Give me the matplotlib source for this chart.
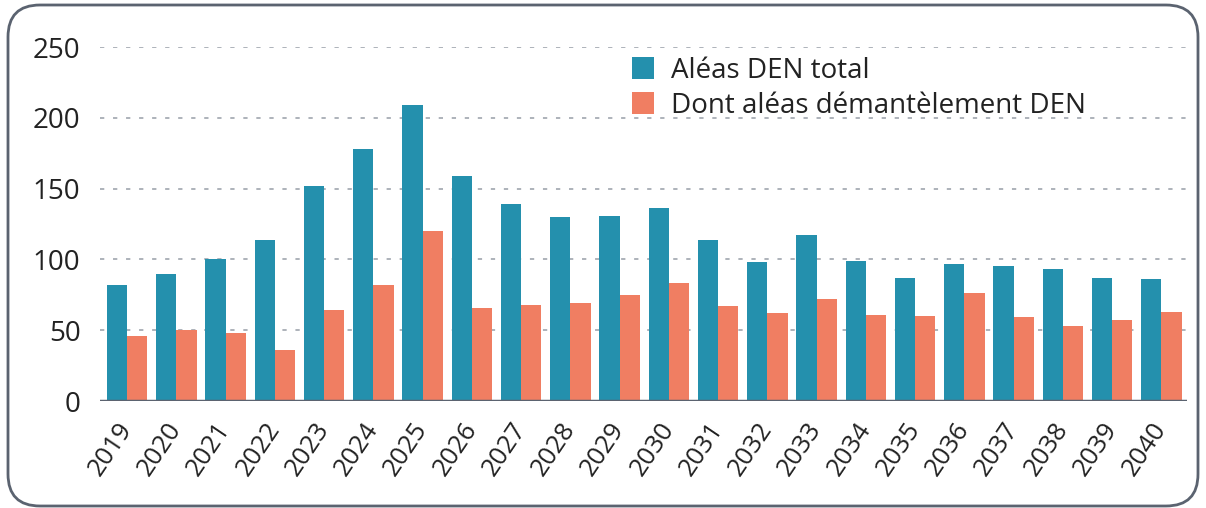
import matplotlib
matplotlib.use("Agg")
import matplotlib.pyplot as plt
import numpy as np
from matplotlib.patches import FancyBboxPatch

plt.rcParams['font.family'] = ['Open Sans', 'DejaVu Sans']

years = [str(y) for y in range(2019, 2041)]
total = [82, 90, 100, 114, 152, 178, 209, 159, 139, 130, 131, 136,
         114, 98, 117, 99, 87, 97, 95, 93, 87, 86]
demantelement = [46, 50, 48, 36, 64, 82, 120, 66, 68, 69, 75, 83,
                 67, 62, 72, 61, 60, 76, 59, 53, 57, 63]

blue = "#2490ad"
orange = "#f07e62"
textcol = "#222222"

fig = plt.figure(figsize=(12.06, 5.08), dpi=100)

# background axes in pixel units, only for the rounded frame
bg = fig.add_axes([0, 0, 1, 1], zorder=-1)
bg.set_xlim(0, 1206)
bg.set_ylim(0, 508)
bg.axis('off')
bg.add_patch(FancyBboxPatch((8, 2), 1190, 501,
                            boxstyle="round,pad=0,rounding_size=32",
                            facecolor="white", edgecolor="#5b6370", linewidth=2))

ax = fig.add_axes([100/1206, 1 - 401/508, 1087/1206, 354/508])
ax.set_facecolor("none")

x = np.arange(len(years))
w = 0.41
ax.bar(x - w/2, total, width=w, color=blue, label="Aléas DEN total", zorder=2)
ax.bar(x + w/2, demantelement, width=w, color=orange,
       label="Dont aléas démantèlement DEN", zorder=2)

ax.set_ylim(0, 250)
ax.set_xlim(-0.55, 21.52)
ax.set_yticks([0, 50, 100, 150, 200, 250])
for v in [50, 100, 150, 200, 250]:
    ax.axhline(v, color="#adb2ba", linewidth=1.4, linestyle=(0, (2.2, 4.5)), zorder=1)
ax.axhline(0, color="#5b6370", linewidth=2.5, zorder=3)

for s in ax.spines.values():
    s.set_visible(False)
ax.tick_params(axis='y', length=0, labelsize=20, labelcolor=textcol, pad=14)
ax.tick_params(axis='x', length=0, labelsize=18.5, labelcolor=textcol, pad=17)
ax.set_xticks(x)
ax.set_xticklabels(years, rotation=56, ha='right', va='center', rotation_mode='anchor')

leg = ax.legend(loc='upper left', bbox_to_anchor=(515/1087, 1 + 7/354), frameon=False,
                fontsize=20, handlelength=0.8, handleheight=0.8,
                handletextpad=0.6, labelspacing=0.25, borderaxespad=0.2)
for t in leg.get_texts():
    t.set_color(textcol)

fig.savefig("out.png", dpi=100)
